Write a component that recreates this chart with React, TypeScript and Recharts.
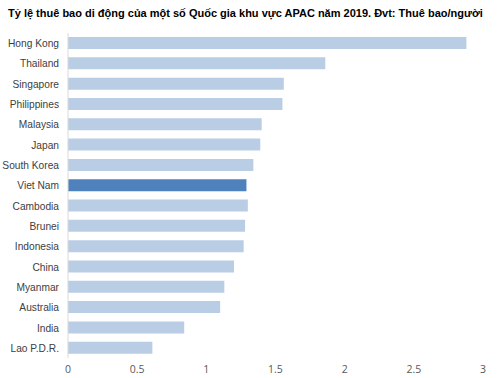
import { BarChart, Bar, XAxis, YAxis, Cell } from 'recharts';

const countries = [
  'Hong Kong', 'Thailand', 'Singapore', 'Philippines', 'Malaysia', 'Japan', 'South Korea', 'Viet Nam',
  'Cambodia', 'Brunei', 'Indonesia', 'China', 'Myanmar', 'Australia', 'India', 'Lao P.D.R.',
];
const subscriptions = [2.88, 1.86, 1.56, 1.55, 1.4, 1.39, 1.34, 1.29, 1.3, 1.28, 1.27, 1.2, 1.13, 1.1, 0.84, 0.61];
const xTicks = [0, 0.5, 1, 1.5, 2, 2.5, 3];
const highlight = 'Viet Nam';

const data = countries.map((name, i) => ({ name, value: subscriptions[i] }));

function CountryTick({ y, payload }: any) {
  return (
    <text
      x={59}
      y={y}
      dy={4}
      textAnchor="end"
      fill="#404040"
      fontSize={10.2}
      fontFamily='"Liberation Sans", Arial, sans-serif'
    >
      {payload.value}
    </text>
  );
}

export default function App() {
  return (
    <div style={{ position: 'absolute', left: 0, top: 0, width: 500, height: 378, background: '#fff' }}>
      <div
        style={{
          position: 'absolute',
          left: 8,
          top: 7,
          fontFamily: '"Liberation Sans", Arial, sans-serif',
          fontWeight: 'bold',
          fontSize: 11,
          color: '#000',
          whiteSpace: 'nowrap',
        }}
      >
        Tỷ lệ thuê bao di động của một số Quốc gia khu vực APAC năm 2019. Đvt: Thuê bao/người
      </div>
      <BarChart
        width={500}
        height={378}
        data={data}
        layout="vertical"
        margin={{ top: 33, right: 17, bottom: 0, left: 0 }}
      >
        <XAxis
          type="number"
          domain={[0, 3]}
          ticks={xTicks}
          axisLine={false}
          tickLine={false}
          tickMargin={2}
          height={20}
          tick={{ fill: '#595959', fontSize: 10.5, fontFamily: '"Open Sans", sans-serif' }}
        />
        <YAxis
          type="category"
          dataKey="name"
          width={68}
          axisLine={{ stroke: '#D9D9D9' }}
          tickLine={false}
          interval={0}
          tick={<CountryTick />}
        />
        <Bar dataKey="value" barSize={12} isAnimationActive={false}>
          {data.map((d) => (
            <Cell key={d.name} fill={d.name === highlight ? '#4F81BD' : '#B9CDE5'} />
          ))}
        </Bar>
      </BarChart>
    </div>
  );
}
